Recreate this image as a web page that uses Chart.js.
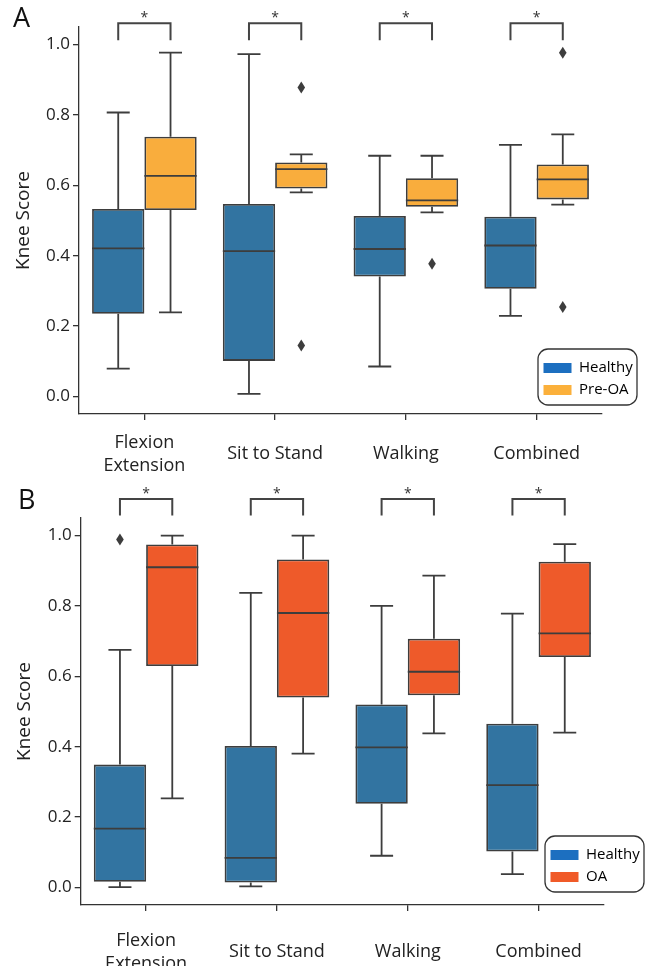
<!DOCTYPE html>
<html><head><meta charset="utf-8">
<script src="https://cdn.jsdelivr.net/npm/chart.js@4.4.0/dist/chart.umd.min.js"></script>
<style>
html,body{margin:0;padding:0;background:#fff;}
.wrap{position:absolute;left:0;width:649px;height:483px;}
#wrapA{top:0}#wrapB{top:483px}
</style></head><body>
<div class="wrap" id="wrapA"><canvas id="cA"></canvas></div>
<div class="wrap" id="wrapB"><canvas id="cB"></canvas></div>
<script>
// ---------- DATA ----------
const categories = [['Flexion', 'Extension'], 'Sit to Stand', 'Walking', 'Combined'];
const yTickValues = [0, 0.2, 0.4, 0.6, 0.8, 1.0];
const sigLabels = ['*', '*', '*', '*'];

// Panel A: Healthy vs Pre-OA
const A_healthyMin = [0.079, 0.007, 0.085, 0.229];
const A_healthyQ1  = [0.235, 0.101, 0.341, 0.306];
const A_healthyMed = [0.421, 0.413, 0.419, 0.429];
const A_healthyQ3  = [0.533, 0.547, 0.513, 0.511];
const A_healthyMax = [0.807, 0.973, 0.684, 0.715];
const A_healthyOut = [];                       // [categoryIndex, value]
const A_preMin = [0.239, 0.580, 0.523, 0.545];
const A_preQ1  = [0.530, 0.591, 0.539, 0.560];
const A_preMed = [0.627, 0.646, 0.557, 0.617];
const A_preQ3  = [0.738, 0.665, 0.620, 0.659];
const A_preMax = [0.977, 0.688, 0.684, 0.745];
const A_preOut = [[1, 0.878], [1, 0.145], [2, 0.377], [3, 0.977], [3, 0.254]];
const A_sigTop = 1.061, A_sigLeg = 1.012;

// Panel B: Healthy vs OA
const B_healthyMin = [0.001, 0.003, 0.090, 0.038];
const B_healthyQ1  = [0.016, 0.014, 0.238, 0.102];
const B_healthyMed = [0.167, 0.084, 0.398, 0.291];
const B_healthyQ3  = [0.349, 0.402, 0.520, 0.465];
const B_healthyMax = [0.675, 0.837, 0.800, 0.778];
const B_healthyOut = [[0, 0.989]];
const B_oaMin = [0.253, 0.380, 0.438, 0.440];
const B_oaQ1  = [0.629, 0.540, 0.546, 0.655];
const B_oaMed = [0.910, 0.780, 0.613, 0.722];
const B_oaQ3  = [0.975, 0.932, 0.707, 0.926];
const B_oaMax = [1.000, 1.000, 0.886, 0.976];
const B_oaOut = [];
const B_sigTop = 1.104, B_sigLeg = 1.057;

// ---------- STYLE ----------
const FONT = "'Open Sans', 'DejaVu Sans', sans-serif";
const LINE = '#3d3d3d';
const AXIS = '#333333';
const blueBox = '#3274a1', blueLegend = '#1c6fc0';
const preBox = '#f9ad3d', preLegend = '#fbb03b';
const oaBox = '#ee5a2a', oaLegend = '#f05a28';

// box-plot whiskers, caps, medians and outlier diamonds, positioned by the library's scales
const boxPlugin = {
  id: 'boxWhiskers',
  afterDatasetsDraw(chart) {
    const ctx = chart.ctx, y = chart.scales.y;
    chart.data.datasets.forEach((ds, di) => {
      if (!ds.stats) return;
      const meta = chart.getDatasetMeta(di);
      ctx.save();
      ctx.strokeStyle = LINE; ctx.lineWidth = 1.8; ctx.lineCap = 'butt';
      meta.data.forEach((bar, i) => {
        const cx = bar.x, w = bar.width;
        const pMin = y.getPixelForValue(ds.stats.min[i]);
        const pMax = y.getPixelForValue(ds.stats.max[i]);
        const pQ1 = y.getPixelForValue(ds.data[i][0]);
        const pQ3 = y.getPixelForValue(ds.data[i][1]);
        const pMed = y.getPixelForValue(ds.stats.med[i]);
        ctx.beginPath();
        ctx.moveTo(cx, pQ3); ctx.lineTo(cx, pMax);
        ctx.moveTo(cx, pQ1); ctx.lineTo(cx, pMin);
        ctx.moveTo(cx - w * 0.22, pMax); ctx.lineTo(cx + w * 0.22, pMax);
        ctx.moveTo(cx - w * 0.22, pMin); ctx.lineTo(cx + w * 0.22, pMin);
        ctx.moveTo(cx - w / 2, pMed); ctx.lineTo(cx + w / 2, pMed);
        ctx.stroke();
      });
      ctx.fillStyle = LINE;
      ds.stats.out.forEach(([c, v]) => {
        const bar = meta.data[c];
        const px = bar.x, py = y.getPixelForValue(v);
        ctx.beginPath();
        ctx.moveTo(px, py - 6); ctx.lineTo(px + 3.8, py); ctx.lineTo(px, py + 6); ctx.lineTo(px - 3.8, py);
        ctx.closePath(); ctx.fill();
      });
      ctx.restore();
    });
  }
};

const sigPlugin = {
  id: 'sigBrackets',
  afterDraw(chart, args, opts) {
    const ctx = chart.ctx, y = chart.scales.y;
    const m0 = chart.getDatasetMeta(0), m1 = chart.getDatasetMeta(1);
    const yTop = y.getPixelForValue(opts.top), yLeg = y.getPixelForValue(opts.leg);
    ctx.save();
    ctx.strokeStyle = '#444'; ctx.lineWidth = 2;
    ctx.fillStyle = '#333';
    ctx.font = '14px ' + FONT; ctx.textAlign = 'center'; ctx.textBaseline = 'alphabetic';
    m0.data.forEach((b0, i) => {
      const x1 = b0.x, x2 = m1.data[i].x;
      ctx.beginPath();
      ctx.moveTo(x1, yLeg); ctx.lineTo(x1, yTop); ctx.lineTo(x2, yTop); ctx.lineTo(x2, yLeg);
      ctx.stroke();
      ctx.fillText(sigLabels[i], (x1 + x2) / 2, yTop - 1);
    });
    ctx.restore();
  }
};

const legendPlugin = {
  id: 'legendPlace',
  afterLayout(chart, args, opts) {
    const lg = chart.legend, ca = chart.chartArea;
    const bx = ca.right + opts.dx, by = ca.bottom + opts.dy;
    const pad = 7;
    lg.left = bx + 5.5 - pad;
    lg.top = by + 19 - 7.5 - pad;
    lg.right = lg.left + 100;
    lg.bottom = lg.top + 200;
    chart.$legendBox = {x: bx, y: by, w: opts.w, h: opts.h};
  },
  afterDraw(chart) {
    const b = chart.$legendBox; if (!b) return;
    const ctx = chart.ctx;
    ctx.save();
    ctx.strokeStyle = AXIS; ctx.lineWidth = 1.3;
    ctx.beginPath();
    ctx.roundRect(b.x, b.y, b.w, b.h, 10);
    ctx.stroke();
    ctx.restore();
  }
};

function makeChart(id, P) {
  const datasets = [
    {label: 'Healthy', type: 'bar', data: P.q1a.map((v, i) => [v, P.q3a[i]]),
     stats: {min: P.mina, med: P.meda, max: P.maxa, out: P.outa},
     backgroundColor: blueBox, borderColor: LINE, borderWidth: 1.8, borderSkipped: false,
     categoryPercentage: 0.8, barPercentage: 1.0},
    {label: P.name2, type: 'bar', data: P.q1b.map((v, i) => [v, P.q3b[i]]),
     stats: {min: P.minb, med: P.medb, max: P.maxb, out: P.outb},
     backgroundColor: P.color2, borderColor: LINE, borderWidth: 1.8, borderSkipped: false,
     categoryPercentage: 0.8, barPercentage: 1.0}
  ];
  return new Chart(document.getElementById(id), {
    type: 'bar',
    data: {labels: categories, datasets},
    plugins: [boxPlugin, sigPlugin, legendPlugin],
    options: {
      responsive: true, maintainAspectRatio: false, animation: false,
      layout: {padding: {left: P.padLeft, right: P.padRight, top: 0, bottom: 0}},
      scales: {
        x: {
          type: 'category', offset: true,
          grid: {display: true, drawOnChartArea: false, drawTicks: true, tickLength: 6, offset: false, color: AXIS, lineWidth: 1.3},
          border: {display: true, color: AXIS, width: 1.3},
          ticks: {font: {family: FONT, size: 18, lineHeight: 1.25}, color: '#222', padding: P.xPad, crossAlign: 'center', maxRotation: 0, autoSkip: false},
          afterFit(s) { s.height = P.xHeight; }
        },
        y: {
          type: 'linear', min: -0.05, max: 1.05,
          grid: {display: true, drawOnChartArea: false, drawTicks: true, tickLength: 6, color: AXIS, lineWidth: 1.3},
          border: {display: true, color: AXIS, width: 1.3},
          ticks: {font: {family: FONT, size: 17}, color: '#222', padding: 3, callback: v => Number(v).toFixed(1)},
          afterBuildTicks(s) { s.ticks = yTickValues.map(v => ({value: v})); },
          title: {display: true, text: 'Knee Score', font: {family: FONT, size: 19, lineHeight: 1.2}, color: '#222', padding: {top: P.yTitlePad, bottom: 0}},
          afterFit(s) { s.width = P.yWidth; }
        }
      },
      plugins: {
        title: {display: true, text: P.letter, align: 'start', color: '#111',
                font: {family: FONT, size: 27, weight: 'normal', lineHeight: 1},
                padding: {top: P.tPadTop, bottom: P.tPadBottom}},
        legend: {
          display: true, position: 'chartArea', align: 'start',
          labels: {
            font: {family: FONT, size: 15}, color: '#222', boxWidth: 28, boxHeight: 10, padding: 7,
            generateLabels: () => [
              {text: 'Healthy', fillStyle: blueLegend, strokeStyle: blueLegend, lineWidth: 0, datasetIndex: 0},
              {text: P.name2, fillStyle: P.legend2, strokeStyle: P.legend2, lineWidth: 0, datasetIndex: 1}
            ]
          }
        },
        tooltip: {enabled: false},
        sigBrackets: {top: P.sigTop, leg: P.sigLeg},
        legendPlace: {dx: P.lgDx, dy: P.lgDy, w: 99, h: 56}
      }
    }
  });
}

makeChart('cA', {
  letter: 'A', name2: 'Pre-OA', color2: preBox, legend2: preLegend,
  mina: A_healthyMin, q1a: A_healthyQ1, meda: A_healthyMed, q3a: A_healthyQ3, maxa: A_healthyMax, outa: A_healthyOut,
  minb: A_preMin, q1b: A_preQ1, medb: A_preMed, q3b: A_preQ3, maxb: A_preMax, outb: A_preOut,
  sigTop: A_sigTop, sigLeg: A_sigLeg,
  padLeft: 13, padRight: 47, yWidth: 66, xHeight: 69, xPad: 23, yTitlePad: -1,
  tPadTop: 5.5, tPadBottom: -5.5, lgDx: -64, lgDy: -65
});
makeChart('cB', {
  letter: 'B', name2: 'OA', color2: oaBox, legend2: oaLegend,
  mina: B_healthyMin, q1a: B_healthyQ1, meda: B_healthyMed, q3a: B_healthyQ3, maxa: B_healthyMax, outa: B_healthyOut,
  minb: B_oaMin, q1b: B_oaQ1, medb: B_oaMed, q3b: B_oaQ3, maxb: B_oaMax, outb: B_oaOut,
  sigTop: B_sigTop, sigLeg: B_sigLeg,
  padLeft: 18, padRight: 45, yWidth: 62.7, xHeight: 61, xPad: 30, yTitlePad: -5,
  tPadTop: 4.5, tPadBottom: 3.5, lgDx: -59, lgDy: -69
});
</script>
</body></html>
